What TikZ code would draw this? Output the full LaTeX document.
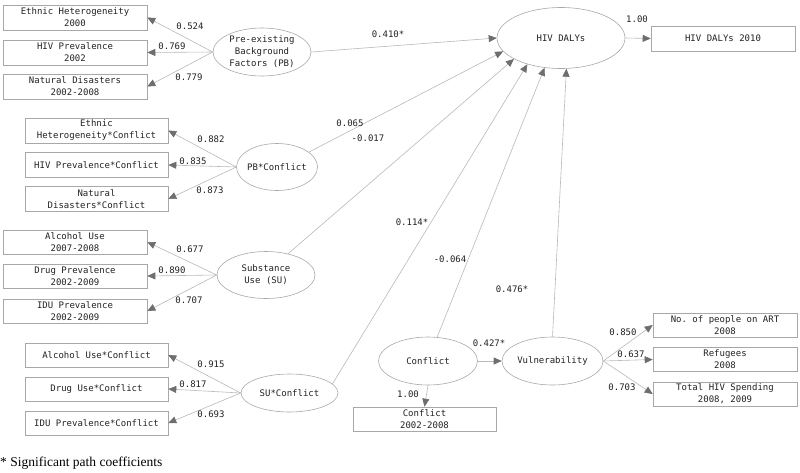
\documentclass[tikz,border=0pt]{standalone}
\usepackage{fontspec}
\setmainfont{Liberation Serif}
\setmonofont{DejaVu Sans Mono}
\usetikzlibrary{shapes.geometric,arrows.meta}
\definecolor{linec}{HTML}{B8B8B8}
\definecolor{tipc}{HTML}{6E6E6E}
\definecolor{txtc}{HTML}{222222}
\definecolor{boxc}{HTML}{A8A8A8}
\begin{document}
\begin{tikzpicture}[x=1pt,y=-1pt,
  mono/.style={font=\ttfamily\fontsize{9}{12}\selectfont, text=txtc},
  box/.style={mono, draw=boxc, line width=0.6pt, rectangle, minimum width=144pt, minimum height=25pt, inner sep=0pt, align=center},
  wbox/.style={box, minimum width=143pt},
  lat/.style={mono, draw=boxc, line width=0.6pt, ellipse, inner sep=-6pt, align=center},
  conn/.style={draw=linec, line width=0.6pt, -{Triangle[length=8pt,width=7pt,color=tipc]}},
  lbl/.style={mono, inner sep=0pt}
]
\useasboundingbox (0,0) rectangle (800,472);

% ---- latent variables
\node[lat, minimum width=98pt, minimum height=48pt] (pb) at (262,52) {Pre-existing\\Background\\Factors (PB)};
\node[lat, minimum width=128pt, minimum height=61pt] (dal) at (561,38) {HIV DALYs};
\node[lat, minimum width=81pt, minimum height=47pt] (pbc) at (277,167) {PB*Conflict};
\node[lat, minimum width=98pt, minimum height=47pt] (su) at (266,275) {Substance\\Use (SU)};
\node[lat, minimum width=97pt, minimum height=38pt] (suc) at (289.5,393) {SU*Conflict};
\node[lat, minimum width=99pt, minimum height=48pt] (conf) at (428,361) {Conflict};
\node[lat, minimum width=101pt, minimum height=48pt] (vul) at (552.5,361) {Vulnerability};

% ---- indicators
\node[box] (eh) at (75,17.5) {Ethnic Heterogeneity\\2000};
\node[box] (hp) at (75,52.5) {HIV Prevalence\\2002};
\node[box] (nd) at (75,86.5) {Natural Disasters\\2002-2008};

\node[wbox] (ehc) at (96.5,130.5) {Ethnic\\Heterogeneity*Conflict};
\node[wbox] (hpc) at (96.5,165) {HIV Prevalence*Conflict};
\node[wbox] (ndc) at (96.5,199) {Natural\\Disasters*Conflict};

\node[box, minimum height=24pt] (al) at (75,242) {Alcohol Use\\2007-2008};
\node[box, minimum height=24pt] (dp) at (75,276) {Drug Prevalence\\2002-2009};
\node[box, minimum height=24pt] (idu) at (75,311) {IDU Prevalence\\2002-2009};

\node[wbox, minimum height=24pt] (auc) at (96.5,355) {Alcohol Use*Conflict};
\node[wbox, minimum height=24pt] (duc) at (96.5,389) {Drug Use*Conflict};
\node[wbox, minimum height=24pt] (iduc) at (96.5,423) {IDU Prevalence*Conflict};

\node[box] (dal10) at (723,38.5) {HIV DALYs 2010};
\node[wbox, minimum height=24pt] (confb) at (424.5,419) {Conflict\\2002-2008};

\node[box, minimum height=24pt] (art) at (725,325) {No. of people on ART\\2008};
\node[box, minimum height=24pt] (ref) at (725,359.5) {Refugees\\2008};
\node[box, minimum height=24pt] (ths) at (725,394) {Total HIV Spending\\2008, 2009};

% ---- measurement paths
\draw[conn] (pb.west) -- (eh.east);
\draw[conn] (pb.west) -- (hp.east);
\draw[conn] (pb.west) -- (nd.east);
\draw[conn] (pbc.west) -- (ehc.east);
\draw[conn] (pbc.west) -- (hpc.east);
\draw[conn] (pbc.west) -- (ndc.east);
\draw[conn] (su.west) -- (al.east);
\draw[conn] (su.west) -- (dp.east);
\draw[conn] (su.west) -- (idu.east);
\draw[conn] (suc.west) -- (auc.east);
\draw[conn] (suc.west) -- (duc.east);
\draw[conn] (suc.west) -- (iduc.east);
\draw[conn] (dal.east) -- (dal10.west);
\draw[conn] (conf.south) -- (confb.north);
\draw[conn] (vul.east) -- (art.west);
\draw[conn] (vul.east) -- (ref.west);
\draw[conn] (vul.east) -- (ths.west);

% ---- structural paths
\draw[conn] (pb.east) -- (dal.west);
\draw[conn] (pbc.25) -- (dal.193);
\draw[conn] (su.44) -- (dal.204);
\draw[conn] (suc.12) -- (dal.218);
\draw[conn] (conf.69) -- (dal.241);
\draw[conn] (vul.north) -- (dal.280);
\draw[conn] (conf.east) -- (vul.west);

% ---- coefficients
\node[lbl] at (190,26) {0.524};
\node[lbl] at (172,46) {0.769};
\node[lbl] at (189,77) {0.779};
\node[lbl] at (388,34) {0.410*};
\node[lbl] at (637,19) {1.00};
\node[lbl] at (350,123) {0.065};
\node[lbl] at (368,138) {-0.017};
\node[lbl] at (211,139) {0.882};
\node[lbl] at (193,161) {0.835};
\node[lbl] at (210,190) {0.873};
\node[lbl] at (412,222) {0.114*};
\node[lbl] at (450,259) {-0.064};
\node[lbl] at (512,289) {0.476*};
\node[lbl] at (190,249) {0.677};
\node[lbl] at (172,270) {0.890};
\node[lbl] at (189,300) {0.707};
\node[lbl] at (211,364) {0.915};
\node[lbl] at (193,384) {0.817};
\node[lbl] at (211,414) {0.693};
\node[lbl] at (489,343) {0.427*};
\node[lbl] at (408,394) {1.00};
\node[lbl] at (623,332) {0.850};
\node[lbl] at (631,354) {0.637};
\node[lbl] at (622,387) {0.703};

% ---- footnote
\node[anchor=west, inner sep=0pt, font=\fontsize{13.5}{16}\selectfont, text=black] (foot) at (0,463) {* Significant path coefficients};
\end{tikzpicture}
\end{document}
